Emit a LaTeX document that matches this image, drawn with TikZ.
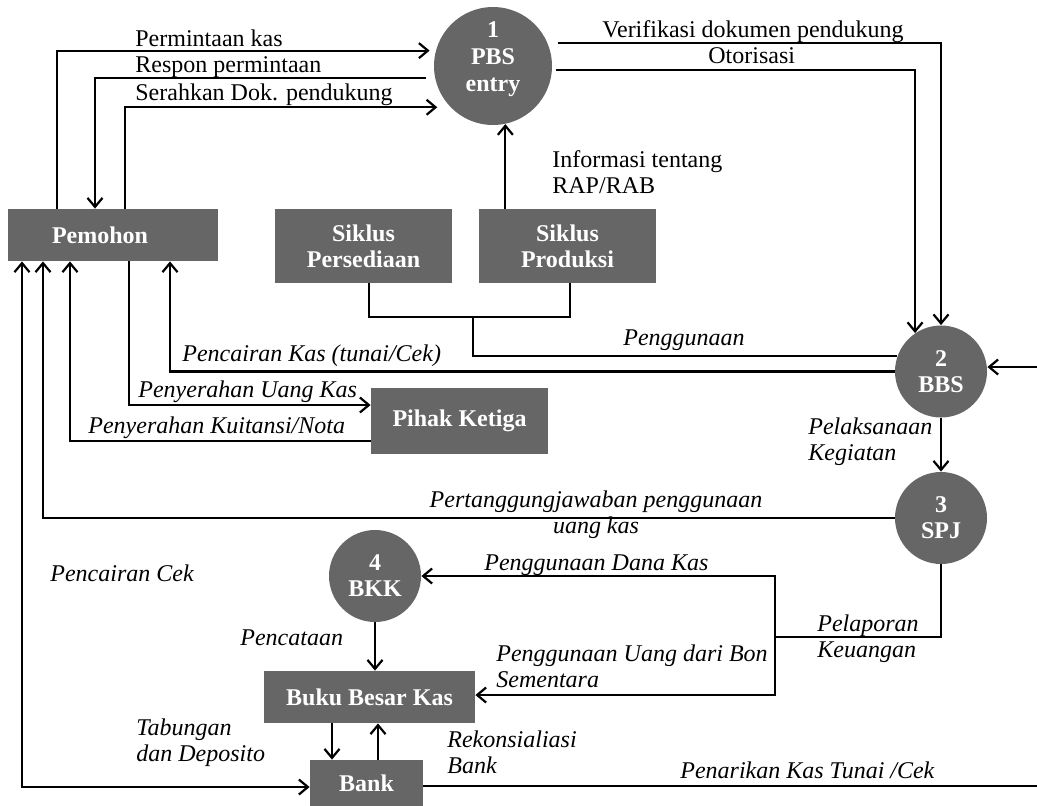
\documentclass[tikz,border=0pt]{standalone}
\usepackage{fontspec}
\setmainfont{Liberation Serif}
\usetikzlibrary{arrows.meta}
\definecolor{boxgray}{RGB}{102,102,102}
\newcommand{\dfont}{\fontsize{12}{13}\selectfont}
\tikzset{
  ent/.style={rectangle, fill=boxgray, text=white, font=\dfont\bfseries, align=center, inner sep=0pt},
  proc/.style={circle, fill=boxgray, text=white, font=\dfont\bfseries, align=center, inner sep=0pt},
  wire/.style={line width=1.1pt},
  flow/.style={wire, -{Straight Barb[length=4.5pt,width=7.5pt]}},
  flowboth/.style={wire, {Straight Barb[length=4.5pt,width=7.5pt]}-{Straight Barb[length=4.5pt,width=7.5pt]}},
  lbl/.style={anchor=base west, inner sep=0pt, align=left, font=\dfont\itshape},
  lblup/.style={anchor=base west, inner sep=0pt, align=left, font=\dfont},
}
\begin{document}
\begin{tikzpicture}[x=0.5pt,y=-0.5pt]
\useasboundingbox (0,0) rectangle (1037,805);

% external entities
\node[ent, minimum width=105pt, minimum height=26pt] (pem) at (113,235) {};
\node[ent] (pemtxt) at (100,235) {Pemohon};
\node[ent, minimum width=88.5pt, minimum height=37pt] (sp) at (363.5,246) {Siklus\\Persediaan};
\node[ent, minimum width=88.5pt, minimum height=37pt] (sprod) at (567.5,246) {Siklus\\Produksi};
\node[ent, minimum width=88.5pt, minimum height=33pt] (pk) at (459.5,421) {Pihak Ketiga};
\node[ent, minimum width=105.5pt, minimum height=26pt] (bbk) at (369.5,697) {Buku Besar Kas};
\node[ent, minimum width=56.5pt, minimum height=23pt] (bank) at (366.5,783) {Bank};

% processes
\node[proc, minimum size=59pt] (p1) at (493,66) {};
\node[proc, font=\fontsize{12}{13.5}\selectfont\bfseries] (p1txt) at (493,59) {1\\PBS\\entry};
\node[proc, minimum size=46pt] (p2) at (941,371.5) {2\\BBS};
\node[proc, minimum size=46pt] (p3) at (941,518) {3\\SPJ};
\node[proc, minimum size=46pt] (p4) at (375,576) {4\\BKK};

% free ends and junctions
\coordinate (rin) at (1037,367);
\coordinate (rout) at (1037,786);
\coordinate (jn) at (473,317);
\coordinate (jr) at (775,637);

% Pemohon <-> PBS entry
\draw[flow, shorten >=3pt] (pem.north -| 57,0) |- (p1.165);
\node[lblup] (l1) at (135,46) {Permintaan kas};
\draw[flow, shorten <=4.5pt] (p1.192) -| (pem.north -| 95,0);
\node[lblup] (l2) at (135,72) {Respon permintaan};
\draw[flow, shorten >=6.5pt] (pem.north -| 125,0) |- (p1.224);
\node[lblup] (l3) at (135,100) {Serahkan Dok. pendukung};

% PBS entry -> BBS
\draw[flow, shorten <=5pt] (p1.23) -| (p2.north);
\node[lblup] (l4) at (602,37) {Verifikasi dokumen pendukung};
\draw[flow, shorten <=2pt] (p1.-4) -| (p2.124);
\node[lblup] (l5) at (708,63) {Otorisasi};

% Siklus Produksi -> PBS entry
\draw[flow] (sprod.north -| p1.282) -- (p1.282);
\node[lblup] (l6) at (552,193) {Informasi tentang\\RAP/RAB};

% Penggunaan
\draw[wire] (sp.south -| 369,0) |- (jn) -| (sprod.south -| 570,0);
\draw[wire] (jn) |- (p2.160);
\node[lbl] (l7) at (623,345) {Penggunaan};

% BBS -> Pemohon
\draw[flow] (p2.west) -| (pem.south -| 170,0);
\node[lbl] (l8) at (182,361) {Pencairan Kas (tunai/Cek)};

% Pemohon <-> Pihak Ketiga
\draw[flow] (pem.south -| 129,0) |- (pk.west |- 0,405);
\node[lbl] (l9) at (138,397) {Penyerahan Uang Kas};
\draw[flow] (pk.west |- 0,441) -| (pem.south -| 70,0);
\node[lbl] (l10) at (88,433) {Penyerahan Kuitansi/Nota};

% SPJ -> Pemohon
\draw[flow] (p3.west) -| (pem.south -| 43,0);
\node[lbl, anchor=base, align=center] (l11) at (596,533) {Pertanggungjawaban penggunaan\\uang kas};

% Pemohon <-> Bank
\draw[flowboth] (pem.south -| 22,0) |- (bank.west |- 0,787);
\node[lbl] (l12) at (50,581) {Pencairan Cek};

% external input to BBS
\draw[flow] (rin) -- (p2.east |- rin);

% BBS -> SPJ
\draw[flow] (p2.south) -- (p3.north);
\node[lbl] (l13) at (808,460) {Pelaksanaan\\Kegiatan};

% SPJ -> BKK and Buku Besar Kas
\draw[wire] (p3.south) |- (jr);
\draw[flow] (jr) |- (p4.east);
\draw[flow] (jr) |- (bbk.east |- 0,695);
\node[lbl] (l14) at (817,657) {Pelaporan\\Keuangan};
\node[lbl] (l15) at (484,570) {Penggunaan Dana Kas};
\node[lbl] (l16) at (496,687) {Penggunaan Uang dari Bon\\Sementara};

% BKK -> Buku Besar Kas
\draw[flow] (p4.south) -- (p4.south |- bbk.north);
\node[lbl] (l17) at (240,645) {Pencataan};

% Buku Besar Kas <-> Bank
\draw[flow] (bbk.south -| 332,0) -- (bank.north -| 332,0);
\node[lbl] (l18) at (136,761) {Tabungan\\dan Deposito};
\draw[flow] (bank.north -| 378,0) -- (bbk.south -| 378,0);
\node[lbl] (l19) at (447,773) {Rekonsialiasi\\Bank};

% Bank -> outside
\draw[wire] (bank.east |- rout) -- (rout);
\node[lbl] (l20) at (680,778) {Penarikan Kas Tunai /Cek};
\end{tikzpicture}
\end{document}
